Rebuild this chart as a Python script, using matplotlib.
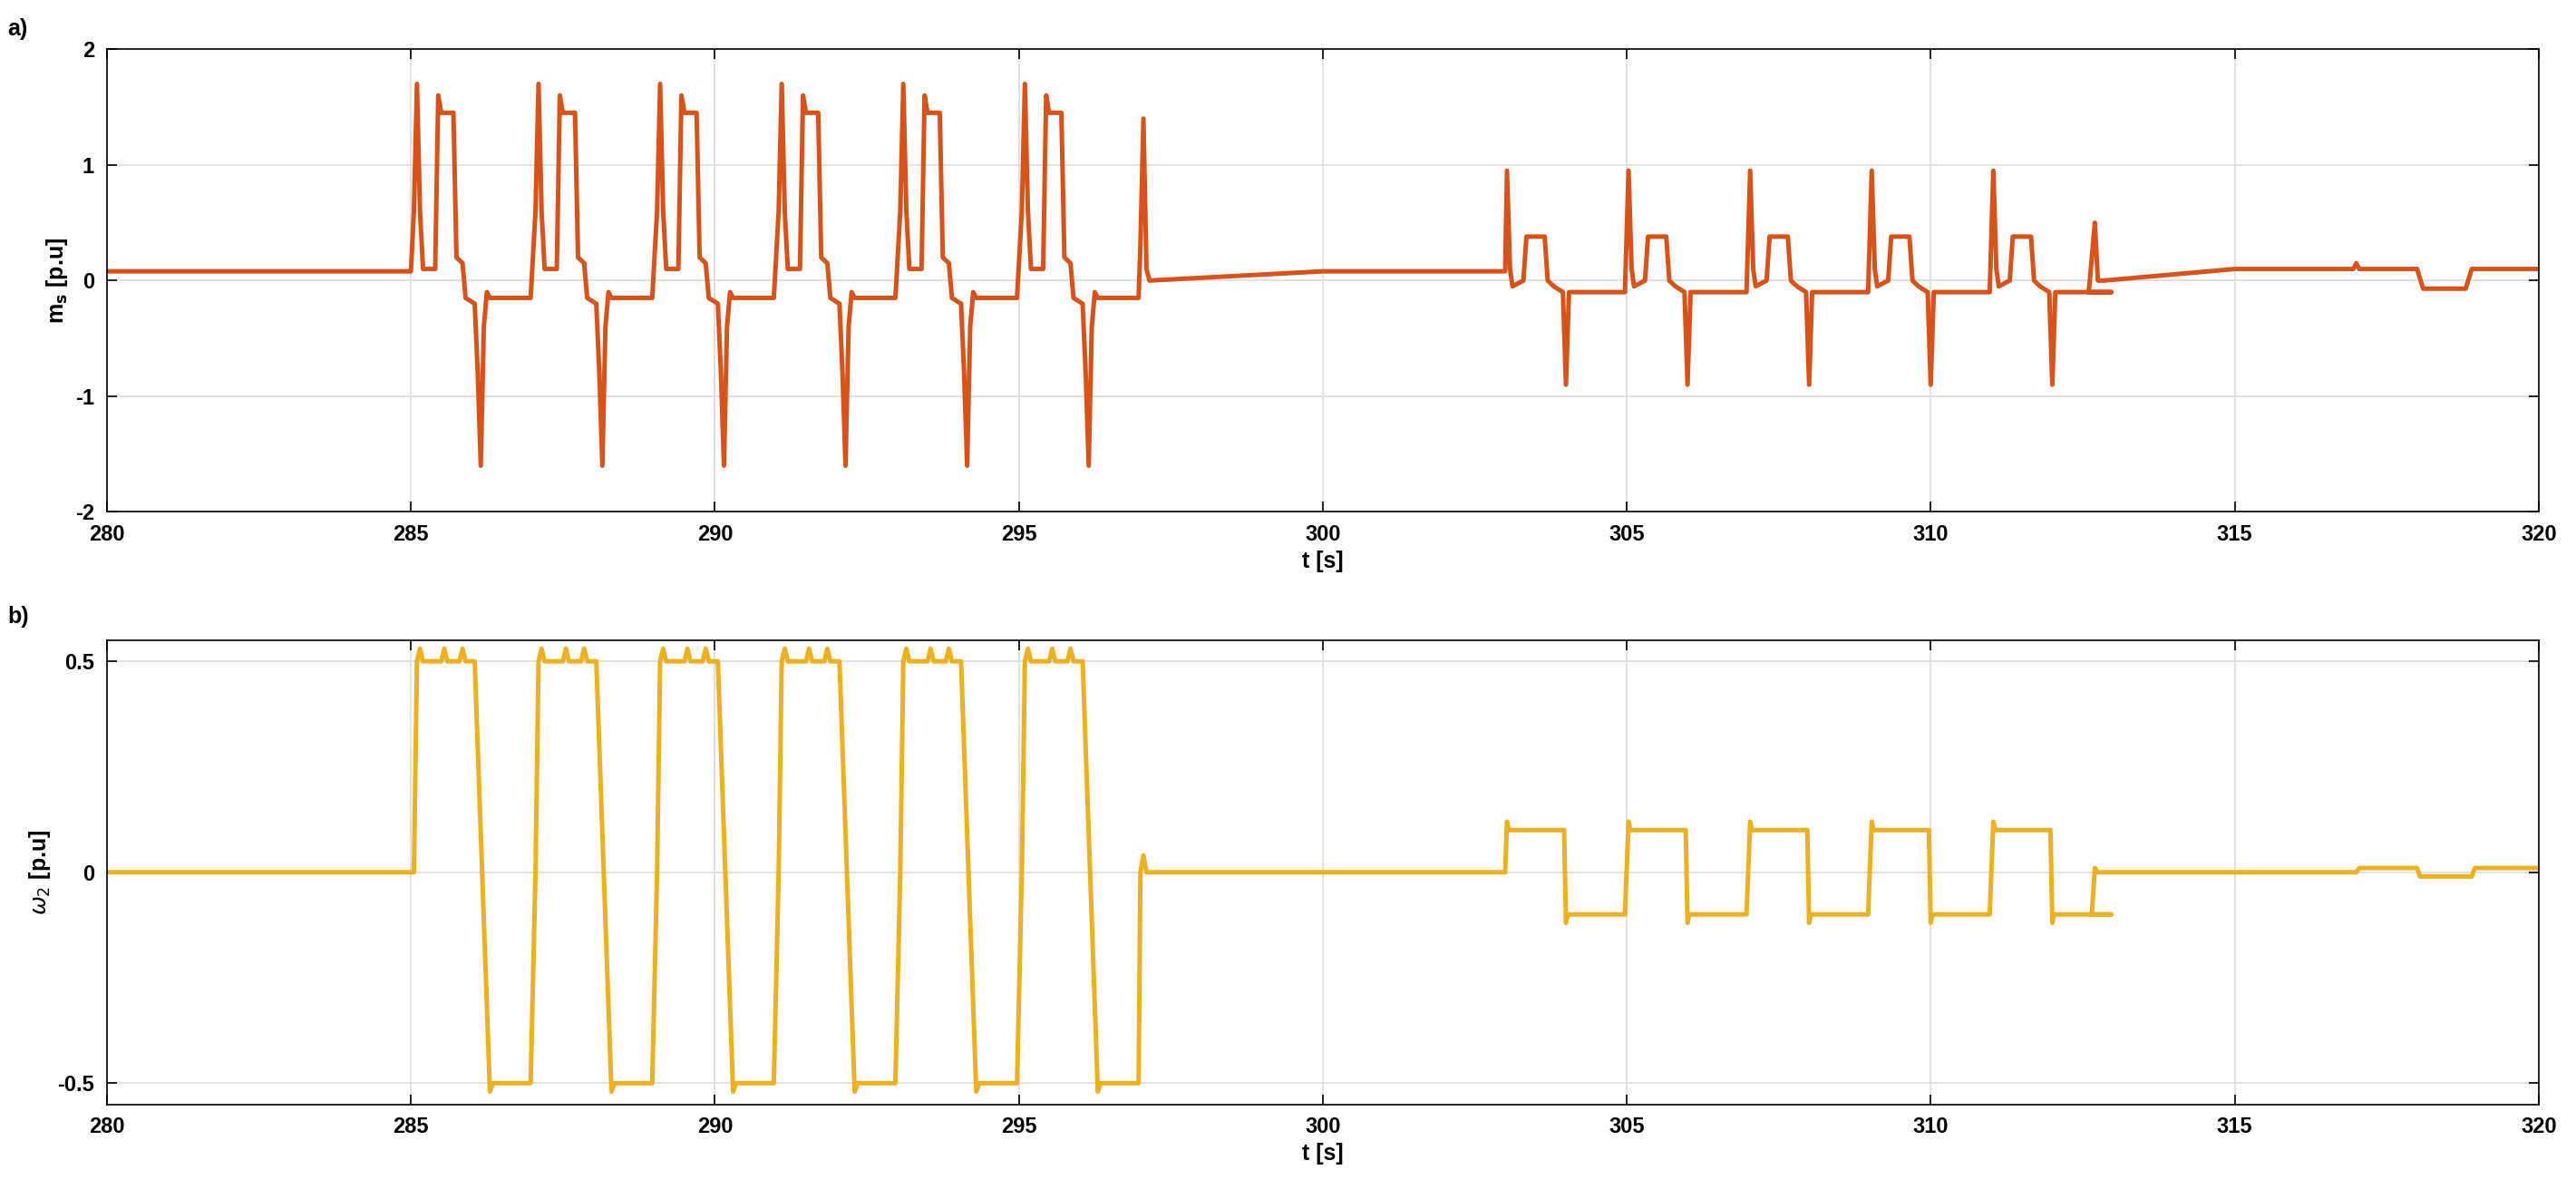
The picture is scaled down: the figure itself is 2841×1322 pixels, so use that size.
import numpy as np
import matplotlib
matplotlib.use("Agg")
import matplotlib.pyplot as plt

plt.rcParams['font.family'] = ['Liberation Sans', 'DejaVu Sans']
plt.rcParams['axes.unicode_minus'] = False

# ---- data (breakpoints: time offset, value) ----
big_cycle_starts = [285, 287, 289, 291, 293, 295]
ms_big_dt  = [0.05, 0.1, 0.15, 0.2, 0.4, 0.45, 0.5, 0.7, 0.75, 0.85, 0.9, 1.05, 1.1, 1.15, 1.2, 1.25, 1.3, 1.97]
ms_big_val = [0.6, 1.7, 0.6, 0.1, 0.1, 1.6, 1.45, 1.45, 0.2, 0.15, -0.15, -0.2, -0.8, -1.6, -0.4, -0.1, -0.15, -0.15]
small_cycle_starts = [303, 305, 307, 309, 311]
ms_small_dt  = [0.03, 0.08, 0.12, 0.3, 0.35, 0.65, 0.7, 0.8, 0.95, 1.0, 1.05, 1.1, 1.97]
ms_small_val = [0.95, 0.1, -0.05, 0.0, 0.38, 0.38, 0.0, -0.05, -0.1, -0.9, -0.1, -0.1, -0.1]
ms_pre_t   = [280, 285.0]
ms_pre_v   = [0.08, 0.08]
ms_mid_t   = [297.0, 297.05, 297.1, 297.15, 300.0, 303.0]
ms_mid_v   = [0.3, 1.4, 0.1, 0.0, 0.08, 0.08]
ms_end_t   = [312.6, 312.7, 312.75, 312.85, 315.0, 316.95, 317.0, 317.05, 318.0, 318.1, 318.8, 318.9, 320.0]
ms_end_v   = [-0.1, 0.5, 0.0, 0.0, 0.1, 0.1, 0.15, 0.1, 0.1, -0.07, -0.07, 0.1, 0.1]

w_big_dt  = [0.05, 0.1, 0.15, 0.2, 0.5, 0.55, 0.6, 0.8, 0.85, 0.9, 1.05, 1.3, 1.35, 1.4, 1.97]
w_big_val = [0.0, 0.5, 0.53, 0.5, 0.5, 0.53, 0.5, 0.5, 0.53, 0.5, 0.5, -0.52, -0.5, -0.5, -0.5]
w_small_dt  = [0.03, 0.06, 0.1, 0.97, 1.0, 1.03, 1.06, 1.1, 1.97]
w_small_val = [0.12, 0.1, 0.1, 0.1, -0.12, -0.1, -0.1, -0.1, -0.1]
w_pre_t = [280, 285.0]
w_pre_v = [0.0, 0.0]
w_mid_t = [297.0, 297.05, 297.1, 303.0]
w_mid_v = [0.0, 0.04, 0.0, 0.0]
w_end_t = [312.65, 312.7, 312.75, 317.0, 317.05, 318.0, 318.05, 318.9, 318.95, 320.0]
w_end_v = [-0.1, 0.01, 0.0, 0.0, 0.01, 0.01, -0.01, -0.01, 0.01, 0.01]

def build(pre_t, pre_v, big_dt, big_v, mid_t, mid_v, small_dt, small_v, end_t, end_v):
    T = list(pre_t); V = list(pre_v)
    for s in big_cycle_starts:
        T += [s + d for d in big_dt]; V += list(big_v)
    T += mid_t; V += mid_v
    for s in small_cycle_starts:
        T += [s + d for d in small_dt]; V += list(small_v)
    T += end_t; V += end_v
    return np.array(T), np.array(V)

ta, ya = build(ms_pre_t, ms_pre_v, ms_big_dt, ms_big_val, ms_mid_t, ms_mid_v,
               ms_small_dt, ms_small_val, ms_end_t, ms_end_v)
tb, yb = build(w_pre_t, w_pre_v, w_big_dt, w_big_val, w_mid_t, w_mid_v,
               w_small_dt, w_small_val, w_end_t, w_end_v)

fig = plt.figure(figsize=(28.41, 13.22), dpi=100)
ax1 = fig.add_axes([0.0415, 0.573, 0.944, 0.386])
ax2 = fig.add_axes([0.0415, 0.079, 0.944, 0.387])

for ax, t, y, c in [(ax1, ta, ya, '#D95319'), (ax2, tb, yb, '#EDB120')]:
    ax.plot(t, y, color=c, lw=3.6)
    ax.set_xlim(280, 320)
    ax.set_xticks(np.arange(280, 321, 5))
    ax.grid(True, color='#dcdcdc', lw=1.2)
    ax.set_axisbelow(True)
    ax.tick_params(direction='in', length=8, width=1.2, labelsize=17, top=True, right=True, pad=10)
    for sp in ax.spines.values():
        sp.set_linewidth(1.2)
    ax.set_xlabel('t [s]', fontsize=18, fontweight='bold')

ax1.set_ylim(-2, 2)
ax1.set_yticks([-2, -1, 0, 1, 2])
ax1.set_ylabel(r'm$_\mathbf{s}$ [p.u]', fontsize=18, fontweight='bold')
ax2.set_ylim(-0.55, 0.55)
ax2.set_yticks([-0.5, 0, 0.5])
ax2.set_yticklabels(['-0.5', '0', '0.5'])
ax2.set_ylabel(r'$\omega_2$ [p.u]', fontsize=18, fontweight='bold')
for ax in (ax1, ax2):
    for lab in ax.get_xticklabels() + ax.get_yticklabels():
        lab.set_fontweight('bold')

fig.text(0.003, 0.985, 'a)', fontsize=18, fontweight='bold', va='top')
fig.text(0.003, 0.495, 'b)', fontsize=18, fontweight='bold', va='top')

fig.savefig('out.png', dpi=100)
